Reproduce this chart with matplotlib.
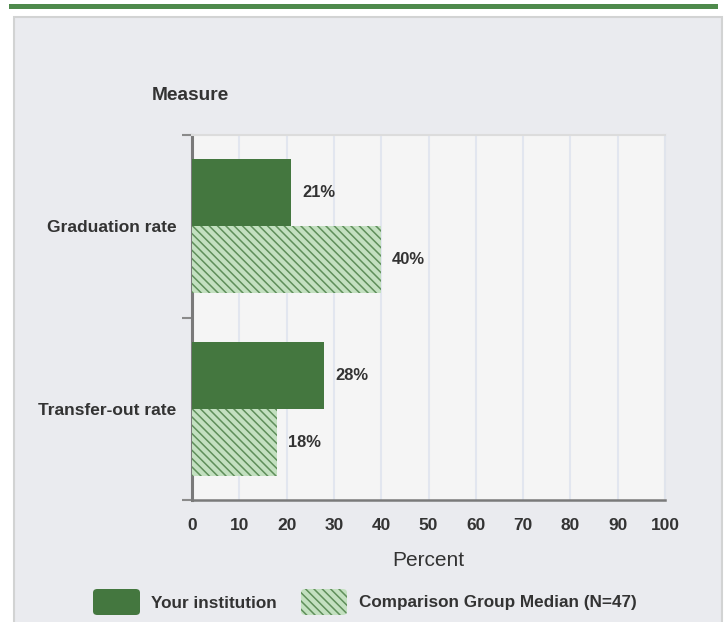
import matplotlib
matplotlib.use('Agg')
import matplotlib.pyplot as plt
from matplotlib.patches import Rectangle, FancyBboxPatch
import numpy as np

categories = ['Graduation rate', 'Transfer-out rate']
institution = [21, 28]
comparison = [40, 18]
series_names = ['Your institution', 'Comparison Group Median (N=47)']
x_ticks = [0, 10, 20, 30, 40, 50, 60, 70, 80, 90, 100]

dark_green = '#44773f'
light_green = '#c3e0c0'
hatch_green = '#5f8f5a'
panel_bg = '#eaebef'
plot_bg = '#f5f5f5'
text_col = '#333333'

plt.rcParams['font.family'] = ['Liberation Sans', 'DejaVu Sans']
plt.rcParams['hatch.linewidth'] = 1.1

W, H = 726, 622
fig = plt.figure(figsize=(W / 100, H / 100), dpi=100)
fig.patch.set_facecolor('white')

# green strip at the top and the grey panel behind everything
fig.add_artist(Rectangle((9 / W, 1 - 9 / H), 709 / W, 5 / H, transform=fig.transFigure,
                         facecolor='#4e8a4c', edgecolor='none', zorder=-10))
fig.add_artist(Rectangle((13.5 / W, -0.01), 708 / W, 1 - 16.5 / H + 0.01, transform=fig.transFigure,
                         facecolor=panel_bg, edgecolor='#d2d3d3', linewidth=1.5, zorder=-10))

ax = fig.add_axes([192 / W, 1 - 500 / H, 473 / W, 365 / H])
ax.set_facecolor(plot_bg)

y = np.arange(len(categories))
h = 0.367
ax.barh(y - h / 2, institution, height=h, color=dark_green, zorder=3)
ax.barh(y + h / 2, comparison, height=h, color=light_green, edgecolor=hatch_green,
        linewidth=0, hatch='\\\\\\\\', zorder=3)

for i in range(len(categories)):
    ax.text(institution[i] + 2.3, y[i] - h / 2, f'{institution[i]}%', va='center', ha='left',
            fontsize=11.9, fontweight='bold', color=text_col, zorder=4)
    ax.text(comparison[i] + 2.3, y[i] + h / 2, f'{comparison[i]}%', va='center', ha='left',
            fontsize=11.9, fontweight='bold', color=text_col, zorder=4)

ax.set_xlim(0, 100)
ax.set_ylim(len(categories) - 0.5, -0.5)
ax.set_xticks(x_ticks)
ax.set_xticklabels([str(t) for t in x_ticks], fontsize=12.5, fontweight='bold', color=text_col)
ax.tick_params(axis='x', length=0, pad=13)
ax.grid(axis='x', color='#e2e6ef', linewidth=1.5, zorder=0)

ax.set_yticks([-0.5, 0.5, 1.5])
ax.set_yticklabels([])
ax.tick_params(axis='y', which='major', length=7, width=1.5, color='#8a8a8a')
ax.set_yticks(y, minor=True)
ax.set_yticklabels(categories, minor=True, fontsize=12.5, fontweight='bold', color=text_col)
ax.tick_params(axis='y', which='minor', length=0, pad=11)

ax.spines['left'].set_color('#7a7a7a')
ax.spines['left'].set_linewidth(2.2)
ax.spines['bottom'].set_color('#7a7a7a')
ax.spines['bottom'].set_linewidth(1.8)
ax.spines['top'].set_color('#dcdcdc')
ax.spines['top'].set_linewidth(1.5)
ax.spines['right'].set_color('#e0e4ec')
ax.spines['right'].set_linewidth(1.5)

ax.set_xlabel('Percent', fontsize=15, color=text_col, labelpad=13)
fig.text(152 / W, 1 - 95 / H, 'Measure', fontsize=13.8, fontweight='bold', color=text_col,
         ha='left', va='center')

# legend
fig.add_artist(FancyBboxPatch((93 / W, 1 - 615 / H), 47 / W, 26 / H, transform=fig.transFigure,
                              boxstyle='round,pad=0,rounding_size=0.006',
                              facecolor=dark_green, edgecolor='none'))
fig.add_artist(FancyBboxPatch((301 / W, 1 - 615 / H), 46 / W, 26 / H, transform=fig.transFigure,
                              boxstyle='round,pad=0,rounding_size=0.006',
                              facecolor=light_green, edgecolor=hatch_green, linewidth=0,
                              hatch='\\\\\\\\'))
fig.text(151 / W, 1 - 603 / H, series_names[0], fontsize=12.3, fontweight='bold',
         color=text_col, ha='left', va='center')
fig.text(359 / W, 1 - 603 / H, series_names[1], fontsize=12.3, fontweight='bold',
         color=text_col, ha='left', va='center')

fig.savefig('out.png', dpi=100, facecolor=fig.get_facecolor())
